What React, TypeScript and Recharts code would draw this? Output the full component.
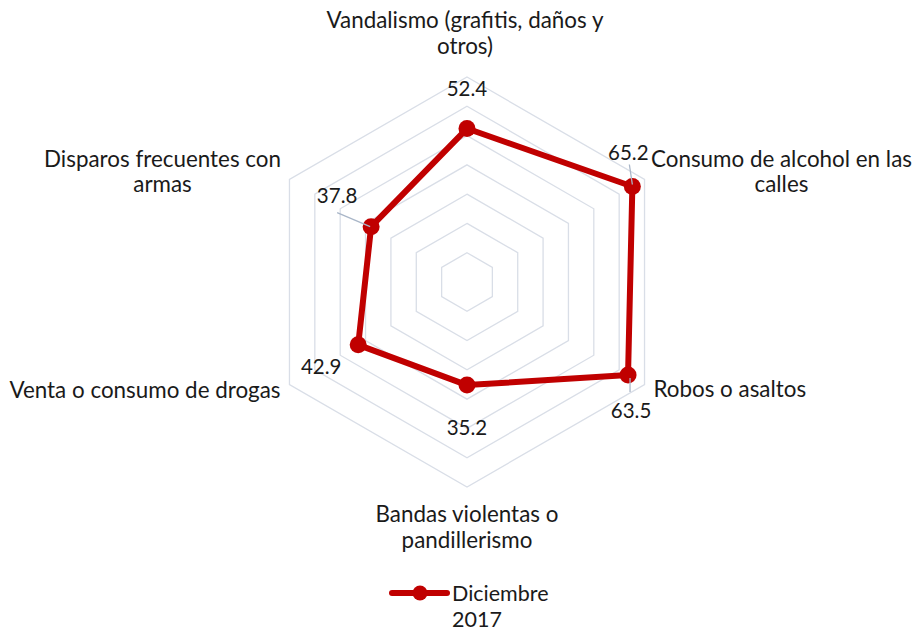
import React from 'react';
import {
  RadarChart, Radar, PolarGrid, PolarAngleAxis, PolarRadiusAxis, Legend, LabelList,
} from 'recharts';

document.body.style.margin = '0';

const CATEGORY_LINES: string[][] = [
  ['Vandalismo (grafitis, daños y', 'otros)'],
  ['Consumo de alcohol en las', 'calles'],
  ['Robos o asaltos'],
  ['Bandas violentas o', 'pandillerismo'],
  ['Venta o consumo de drogas'],
  ['Disparos frecuentes con', 'armas'],
];
const CATEGORIES = CATEGORY_LINES.map((l) => l.join(' '));
const DIC_2017 = [52.4, 65.2, 63.5, 35.2, 42.9, 37.8];
const SERIES_NAME = 'Diciembre 2017';

const data = CATEGORIES.map((c, i) => ({ category: c, value: DIC_2017[i] }));

const FONT = 'Lato, "Open Sans", sans-serif';
const TEXT = '#1a1a1a';
const RED = '#c00000';

// where each category label sits relative to its tick point
const TICK_LAYOUT = [
  { dx: -2, dy: -41, anchor: 'middle' },
  { dx: 130, dy: -9, anchor: 'middle' },
  { dx: 2, dy: 8, anchor: 'start' },
  { dx: 0, dy: 27, anchor: 'middle' },
  { dx: -2, dy: 9, anchor: 'end' },
  { dx: -120, dy: -9, anchor: 'middle' },
];

// data label offsets from the point + leader lines
const LABEL_LAYOUT = [
  { dx: 0, dy: -33, leader: null },
  { dx: -4, dy: -27, leader: [-3, -22, 0, -2] },
  { dx: 3, dy: 43, leader: [2, 3, 2, 17] },
  { dx: 0, dy: 50, leader: null },
  { dx: -37, dy: 29, leader: null },
  { dx: -34, dy: -24, leader: [-34, -14, -1, 0] },
];

const CategoryTick = (props: any) => {
  const { x, y, payload, index } = props;
  const i = typeof index === 'number' ? index : CATEGORIES.indexOf(payload.value);
  const lay = TICK_LAYOUT[i];
  const lines = CATEGORY_LINES[i];
  return (
    <text
      x={x + lay.dx}
      y={y + lay.dy}
      textAnchor={lay.anchor}
      fontFamily={FONT}
      fontSize={22.4}
      fill={TEXT}
    >
      {lines.map((l, k) => (
        <tspan key={k} x={x + lay.dx} dy={k === 0 ? 0 : 25.5}>{l}</tspan>
      ))}
    </text>
  );
};

const ValueLabel = (props: any) => {
  const { x, y, value, index } = props;
  const lay = LABEL_LAYOUT[index];
  return (
    <g>
      {lay.leader && (
        <line
          x1={x + lay.leader[0]} y1={y + lay.leader[1]}
          x2={x + lay.leader[2]} y2={y + lay.leader[3]}
          stroke="#a9b6c8" strokeWidth={1.3}
        />
      )}
      <text x={x + lay.dx} y={y + lay.dy} textAnchor="middle" fontFamily={FONT} fontSize={20.5} fill={TEXT}>
        {Number(value).toFixed(1)}
      </text>
    </g>
  );
};

const Dot = (props: any) => {
  const { cx, cy } = props;
  return <circle cx={cx} cy={cy} r={8.5} fill={RED} stroke="none" />;
};

const LegendContent = () => {
  const parts = SERIES_NAME.split(' ');
  return (
    <svg width={200} height={60}>
      <line x1={7} y1={18} x2={62} y2={18} stroke={RED} strokeWidth={6} strokeLinecap="round" />
      <circle cx={35} cy={18} r={7.5} fill={RED} />
      <text x={67} y={26} fontFamily={FONT} fontSize={21.5} fill={TEXT}>
        <tspan x={67}>{parts[0]}</tspan>
        <tspan x={67} dy={26}>{parts[1]}</tspan>
      </text>
    </svg>
  );
};

export default function App() {
  return (
    <div style={{ width: 915, height: 631, background: '#fff' }}>
      <RadarChart
        width={915}
        height={631}
        data={data}
        cx={467}
        cy={282}
        outerRadius={205}
        margin={{ top: 0, right: 0, bottom: 0, left: 0 }}
      >
        <PolarGrid gridType="polygon" radialLines={false} stroke="#d9dee7" strokeWidth={1.3} />
        <PolarAngleAxis dataKey="category" tick={<CategoryTick />} tickLine={false} axisLine={false} />
        <PolarRadiusAxis domain={[0, 70]} tickCount={8} tick={false} axisLine={false} />
        <Radar
          name={SERIES_NAME}
          dataKey="value"
          stroke={RED}
          strokeWidth={6}
          strokeLinejoin="round"
          fill="none"
          fillOpacity={0}
          dot={<Dot />}
          isAnimationActive={false}
        >
          <LabelList dataKey="value" content={<ValueLabel />} />
        </Radar>
        <Legend
          content={<LegendContent />}
          wrapperStyle={{ position: 'absolute', left: 385, top: 575, width: 200, height: 60 }}
        />
      </RadarChart>
    </div>
  );
}
